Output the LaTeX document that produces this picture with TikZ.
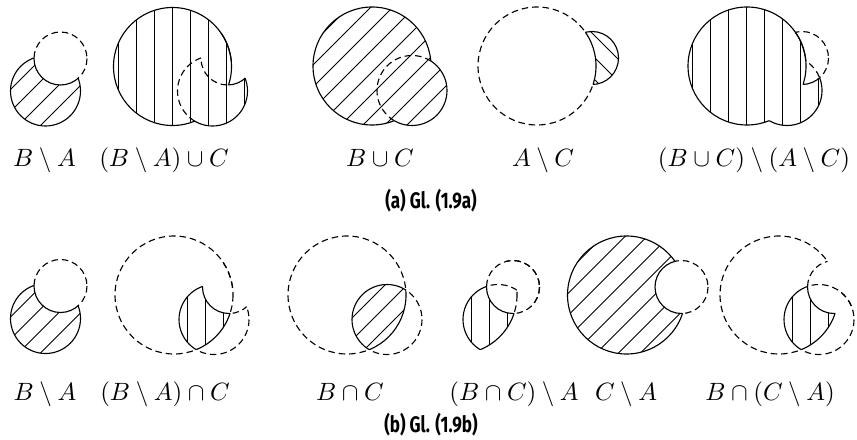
\documentclass[tikz,border=0pt]{standalone}
\usepackage{fontspec}
\newfontfamily\capfont[FakeStretch=0.76]{Fira Sans}
\newcommand\Cc{(0,0) circle (59)}
\newcommand\Bc{(40,24.5) circle (35)}
\newcommand\Ac{(55,-8) circle (26.5)}
\newcommand\bigsq{(-200,-200) -- (200,-200) -- (200,200) -- (-200,200) -- cycle}
\newcommand\notC{\bigsq (59,0) arc[start angle=0,end angle=-360,radius=59]}
\newcommand\notB{\bigsq (75,24.5) arc[start angle=0,end angle=-360,radius=35]}
\newcommand\notA{\bigsq (81.5,-8) arc[start angle=0,end angle=-360,radius=26.5]}
\newcommand\piece[3]{\begin{scope}#1\draw[#2]#3;\end{scope}}
\newcommand\vlines[1]{\foreach \k in {-5,...,6} \draw[hatch] (#1+\k*18,-75) -- ++(0,150);}
\newcommand\nelines[1]{\foreach \k in {-8,...,8} \draw[hatch] (#1+\k*22-80,80) -- ++(160,-160);}
\newcommand\nwlines[1]{\foreach \k in {-8,...,8} \draw[hatch] (#1+\k*22-80,-80) -- ++(160,160);}
\tikzset{
  rim/.style={line width=0.45pt},
  dash rim/.style={line width=0.45pt, dash pattern=on 2.6pt off 1.6pt},
  hatch/.style={line width=0.4pt},
  setlabel/.style={anchor=base, inner sep=0pt},
  caption/.style={font=\capfont\bfseries\fontsize{9}{10}\selectfont, inner sep=0pt}
}

\begin{document}
\begin{tikzpicture}[x=0.4pt, y=-0.4pt]
  \useasboundingbox (0,0) rectangle (857,439);

  \begin{scope}[shift={(5.5,66.5)}]
    \begin{scope}\clip\Bc; \clip\notA; \nelines{6}\end{scope}
    \piece{\clip\notA;}{rim}{\Bc}
    \piece{\clip\Bc;}{rim}{\Ac}
    \piece{\clip\notB;}{dash rim}{\Ac}
  \end{scope}
  \node[setlabel] (lBA) at (44.5,166) {$B\setminus A$};

  \begin{scope}[shift={(172.5,66.5)}]
    \begin{scope}\clip\Cc; \vlines{-0.5}\end{scope}
    \begin{scope}\clip\Bc; \clip\notA; \vlines{-0.5}\end{scope}
    \piece{\clip\notB;}{rim}{\Cc}
    \piece{\clip\Ac;}{rim}{\Cc}
    \piece{\clip\notC; \clip\notA;}{rim}{\Bc}
    \piece{\clip\Bc; \clip\notC;}{rim}{\Ac}
    \piece{\clip\Cc; \clip\notA;}{dash rim}{\Bc}
    \piece{\clip\Bc; \clip\Cc;}{dash rim}{\Ac}
  \end{scope}
  \node[setlabel] (lBAuC) at (164,166) {$(B\setminus A)\cup C$};

  \begin{scope}[shift={(372,66)}]
    \begin{scope}\clip\Cc \Bc; \nelines{6}\end{scope}
    \piece{\clip\notB;}{rim}{\Cc}
    \piece{\clip\notC;}{rim}{\Bc}
    \piece{\clip\Cc;}{dash rim}{\Bc}
  \end{scope}
  \node[setlabel] (lBuC) at (380,166) {$B\cup C$};

  \begin{scope}[shift={(537,66)}]
    \begin{scope}\clip\Ac; \clip\notC; \nwlines{0}\end{scope}
    \piece{\clip\notC;}{rim}{\Ac}
    \piece{\clip\Ac;}{rim}{\Cc}
    \piece{\clip\notA;}{dash rim}{\Cc}
  \end{scope}
  \node[setlabel] (lAC) at (543,166) {$A\setminus C$};

  \begin{scope}[shift={(747,66)}]
    \begin{scope}\clip\Cc; \vlines{-0.5}\end{scope}
    \begin{scope}\clip\Bc; \clip\notA; \vlines{-0.5}\end{scope}
    \piece{\clip\notB;}{rim}{\Cc}
    \piece{\clip\Ac;}{rim}{\Cc}
    \piece{\clip\notC; \clip\notA;}{rim}{\Bc}
    \piece{\clip\Bc; \clip\notC;}{rim}{\Ac}
    \piece{\clip\notB; \clip\notC;}{dash rim}{\Ac}
    \piece{\clip\Ac; \clip\notC;}{dash rim}{\Bc}
  \end{scope}
  \node[setlabel] (lBuCAC) at (754,166) {$(B\cup C)\setminus(A\setminus C)$};

  \node[caption] (capa) at (431,201) {(a) Gl. (1.9a)};

  \begin{scope}[shift={(5.5,294)}]
    \begin{scope}\clip\Bc; \clip\notA; \nelines{6}\end{scope}
    \piece{\clip\notA;}{rim}{\Bc}
    \piece{\clip\Bc;}{rim}{\Ac}
    \piece{\clip\notB;}{dash rim}{\Ac}
  \end{scope}
  \node[setlabel] (lBA2) at (45,400) {$B\setminus A$};

  \begin{scope}[shift={(174,295)}]
    \begin{scope}\clip\Bc; \clip\notA; \clip\Cc; \vlines{13.5}\end{scope}
    \piece{\clip\Bc; \clip\notA;}{rim}{\Cc}
    \piece{\clip\Cc; \clip\notA;}{rim}{\Bc}
    \piece{\clip\Bc; \clip\Cc;}{rim}{\Ac}
    \piece{\clip\notB;}{dash rim}{\Cc}
    \piece{\clip\Ac;}{dash rim}{\Cc}
    \piece{\clip\notC; \clip\notA;}{dash rim}{\Bc}
    \piece{\clip\Bc; \clip\notC;}{dash rim}{\Ac}
  \end{scope}
  \node[setlabel] (lBAnC) at (165,400) {$(B\setminus A)\cap C$};

  \begin{scope}[shift={(347,295)}]
    \begin{scope}\clip\Bc; \clip\Cc; \nelines{6}\end{scope}
    \piece{\clip\Bc;}{rim}{\Cc}
    \piece{\clip\Cc;}{rim}{\Bc}
    \piece{\clip\notB;}{dash rim}{\Cc}
    \piece{\clip\notC;}{dash rim}{\Bc}
  \end{scope}
  \node[setlabel] (lBnC) at (350,400) {$B\cap C$};

  \begin{scope}[shift={(458,295)}]
    \begin{scope}\clip\Bc; \clip\notA; \clip\Cc; \vlines{13.5}\end{scope}
    \piece{\clip\Cc; \clip\notA;}{rim}{\Bc}
    \piece{\clip\Bc; \clip\notA;}{rim}{\Cc}
    \piece{\clip\Bc; \clip\Cc;}{rim}{\Ac}
    \piece{\clip\Cc; \clip\Ac;}{dash rim}{\Bc}
    \piece{\clip\Bc; \clip\Ac;}{dash rim}{\Cc}
    \piece{\clip\notB;}{dash rim}{\Ac}
    \piece{\clip\notC;}{dash rim}{\Ac}
  \end{scope}
  \node[setlabel] (lBnCA) at (514,400) {$(B\cap C)\setminus A$};

  \begin{scope}[shift={(626.5,295)}]
    \begin{scope}\clip\Cc; \clip\notA; \nelines{6}\end{scope}
    \piece{\clip\notA;}{rim}{\Cc}
    \piece{\clip\Cc;}{rim}{\Ac}
    \piece{\clip\notC;}{dash rim}{\Ac}
  \end{scope}
  \node[setlabel] (lCA) at (626,400) {$C\setminus A$};

  \begin{scope}[shift={(779,295)}]
    \begin{scope}\clip\Bc; \clip\notA; \clip\Cc; \vlines{13.5}\end{scope}
    \piece{\clip\Cc; \clip\notA;}{rim}{\Bc}
    \piece{\clip\Bc; \clip\notA;}{rim}{\Cc}
    \piece{\clip\Bc; \clip\Cc;}{rim}{\Ac}
    \piece{\clip\notC;}{dash rim}{\Bc}
    \piece{\clip\Ac;}{dash rim}{\Bc}
    \piece{\clip\notA; \clip\notB;}{dash rim}{\Cc}
    \piece{\clip\Cc; \clip\notB;}{dash rim}{\Ac}
  \end{scope}
  \node[setlabel] (lBnCA2) at (770,400) {$B\cap(C\setminus A)$};

  \node[caption] (capb) at (431,425) {(b) Gl. (1.9b)};
\end{tikzpicture}
\end{document}
